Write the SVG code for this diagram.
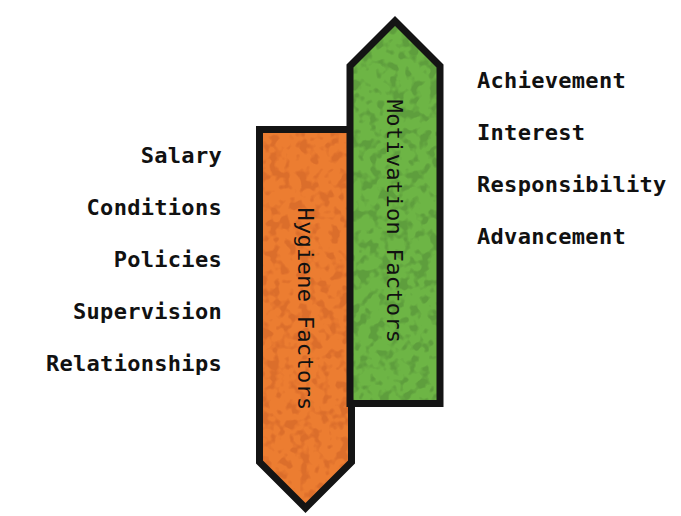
<svg xmlns="http://www.w3.org/2000/svg" width="681" height="516" viewBox="0 0 681 516">
  <defs>
    <style>
      .lbl { font-family: "DejaVu Sans Mono", "Liberation Mono", monospace; font-weight: bold; font-size: 22px; letter-spacing: 0.3px; fill: #111; }
      .left { text-anchor: end; }
      .right { text-anchor: start; }
      .arrowtxt { text-anchor: middle; font-weight: normal; }
      .border { fill: none; stroke: #141414; stroke-width: 7; stroke-linejoin: miter; stroke-miterlimit: 10; }
    </style>
    <filter id="mottleO" x="0" y="0" width="100%" height="100%" color-interpolation-filters="sRGB">
      <feTurbulence type="fractalNoise" baseFrequency="0.1" numOctaves="2" seed="4" result="n"/>
      <feColorMatrix in="n" type="matrix" values="0 0 0 0 0.86  0 0 0 0 0.43  0 0 0 0 0.17  7 0 0 0 -3.5" result="blob"/>
      <feComposite in="blob" in2="SourceGraphic" operator="in" result="b2"/>
      <feMerge><feMergeNode in="SourceGraphic"/><feMergeNode in="b2"/></feMerge>
    </filter>
    <filter id="mottleG" x="0" y="0" width="100%" height="100%" color-interpolation-filters="sRGB">
      <feTurbulence type="fractalNoise" baseFrequency="0.1" numOctaves="2" seed="9" result="n"/>
      <feColorMatrix in="n" type="matrix" values="0 0 0 0 0.37  0 0 0 0 0.62  0 0 0 0 0.24  7 0 0 0 -3.5" result="blob"/>
      <feComposite in="blob" in2="SourceGraphic" operator="in" result="b2"/>
      <feMerge><feMergeNode in="SourceGraphic"/><feMergeNode in="b2"/></feMerge>
    </filter>
  </defs>
  <rect width="681" height="516" fill="#ffffff"/>

  <g id="hygiene">
    <polygon points="259.5,129.5 351.5,129.5 351.5,462 305.5,508 259.5,462" fill="#ec7d31" filter="url(#mottleO)"/>
    <polygon class="border" points="259.5,129.5 351.5,129.5 351.5,462 305.5,508 259.5,462"/>
    <text class="lbl arrowtxt" transform="translate(297.5,309) rotate(90)" x="0" y="0">Hygiene Factors</text>
  </g>

  <g id="motivation">
    <polygon points="350,403.5 350,66 395,21 440,66 440,403.5" fill="#6db545" filter="url(#mottleG)"/>
    <polygon class="border" points="350,403.5 350,66 395,21 440,66 440,403.5"/>
    <text class="lbl arrowtxt" transform="translate(387,221.5) rotate(90)" x="0" y="0">Motivation Factors</text>
  </g>

  <g id="hygiene-items">
    <text class="lbl left" x="222" y="163">Salary</text>
    <text class="lbl left" x="222" y="215">Conditions</text>
    <text class="lbl left" x="222" y="267">Policies</text>
    <text class="lbl left" x="222" y="319">Supervision</text>
    <text class="lbl left" x="222" y="371">Relationships</text>
  </g>

  <g id="motivation-items">
    <text class="lbl right" x="477" y="88">Achievement</text>
    <text class="lbl right" x="477" y="140">Interest</text>
    <text class="lbl right" x="477" y="192">Responsibility</text>
    <text class="lbl right" x="477" y="244">Advancement</text>
  </g>
</svg>
